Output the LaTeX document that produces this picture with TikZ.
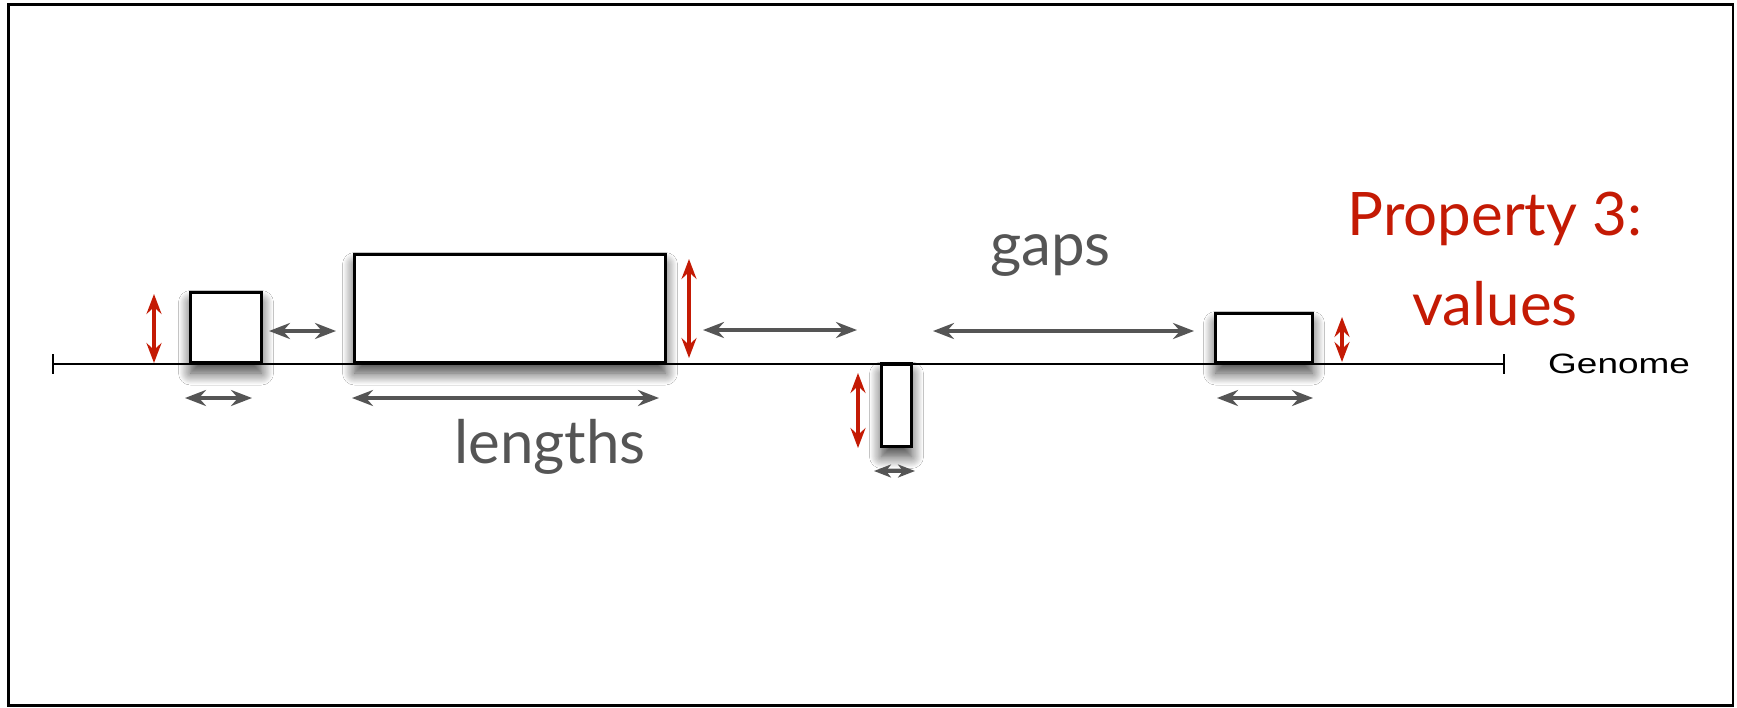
\documentclass[tikz,border=0pt]{standalone}
\usepackage{fontspec}
\newfontfamily\lato{Lato}
\newfontfamily\arialfont{Liberation Sans}
\usetikzlibrary{arrows.meta,shadows.blur}
\definecolor{propred}{RGB}{196,26,4}
\definecolor{dimgrey}{RGB}{85,85,85}
\begin{document}
\begin{tikzpicture}[x=1pt,y=-1pt,
  box/.style={draw=black, fill=white, line width=3.8pt, inner sep=0pt, outer sep=0pt,
    blur shadow={shadow xshift=0pt, shadow yshift=-10pt, shadow blur radius=12pt, shadow blur steps=16, shadow opacity=75}},
  garrow/.style={draw=dimgrey, line width=4.2pt, {Stealth[length=21pt,width=16pt,inset=7pt]}-{Stealth[length=21pt,width=16pt,inset=7pt]}},
  sarrow/.style={draw=dimgrey, line width=3.5pt, {Stealth[length=17pt,width=13pt,inset=5pt]}-{Stealth[length=17pt,width=13pt,inset=5pt]}},
  rarrow/.style={draw=propred, line width=4pt, {Stealth[length=20pt,width=15pt,inset=7pt]}-{Stealth[length=20pt,width=15pt,inset=7pt]}},
  lbl/.style={inner sep=0pt, anchor=base, font=\lato\fontsize{60}{60}\selectfont},
  genome/.style={draw=black, line width=2pt}
]
\useasboundingbox (0,0) rectangle (1737,707);
\fill[white] (0,0) rectangle (1737,707);
\draw[line width=2.5pt] (8.5,4.5) rectangle (1733,705.5);

% boxes
\node[box, minimum width=71pt, minimum height=70.5pt] (b1) at (226,327.75) {};
\node[box, minimum width=311pt, minimum height=108.5pt] (b2) at (510,308.75) {};
\node[box, minimum width=30pt, minimum height=82.5pt] (b3) at (896.5,405.25) {};
\node[box, minimum width=97pt, minimum height=49.5pt] (b4) at (1264,338.25) {};

% genome line
\coordinate (gL) at (53,364);
\coordinate (gR) at (1504,364);
\draw[genome] (gL) -- (gR);
\draw[genome] ([yshift=10pt]gL) -- ([yshift=-10pt]gL);
\draw[genome] ([yshift=10pt]gR) -- ([yshift=-10pt]gR);
\node[inner sep=0pt, anchor=base west, font=\arialfont\fontsize{28}{28}\selectfont] (gtext) at (1548,373) {\scalebox{1.32}[1]{Genome}};

% red value arrows
\coordinate (r1a) at (154,294); \coordinate (r1b) at (154,363);
\coordinate (r2a) at (689,259); \coordinate (r2b) at (689,358);
\coordinate (r3a) at (858,373); \coordinate (r3b) at (858,448);
\coordinate (r4a) at (1342,317); \coordinate (r4b) at (1342,362);
\draw[rarrow] (r1a) -- (r1b);
\draw[rarrow] (r2a) -- (r2b);
\draw[rarrow] (r3a) -- (r3b);
\draw[rarrow] (r4a) -- (r4b);

% grey gap arrows
\coordinate (g1a) at (269,331); \coordinate (g1b) at (336,331);
\coordinate (g2a) at (703,330); \coordinate (g2b) at (857,330);
\coordinate (g3a) at (933,331); \coordinate (g3b) at (1194,331);
\draw[garrow] (g1a) -- (g1b);
\draw[garrow] (g2a) -- (g2b);
\draw[garrow] (g3a) -- (g3b);

% grey length arrows
\coordinate (l1a) at (185,398); \coordinate (l1b) at (252,398);
\coordinate (l2a) at (352,398); \coordinate (l2b) at (659,398);
\coordinate (l3a) at (874,471); \coordinate (l3b) at (915,471);
\coordinate (l4a) at (1217,398); \coordinate (l4b) at (1313,398);
\draw[garrow] (l1a) -- (l1b);
\draw[garrow] (l2a) -- (l2b);
\draw[sarrow] (l3a) -- (l3b);
\draw[garrow] (l4a) -- (l4b);

% labels
\node[lbl, text=dimgrey] (lengths) at (550,463) {lengths};
\node[lbl, text=dimgrey] (gaps) at (1050.5,265) {gaps};
\node[lbl, text=propred] (prop) at (1495,235) {Property 3:};
\node[lbl, text=propred] (vals) at (1495,325) {values};
\end{tikzpicture}
\end{document}
